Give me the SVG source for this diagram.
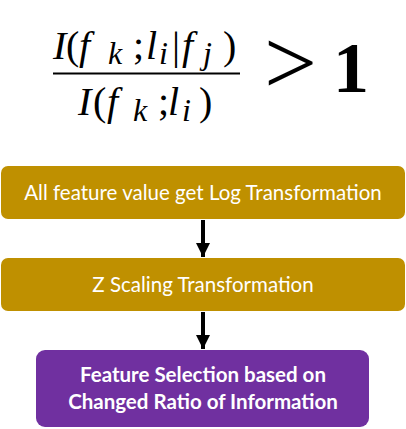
<svg xmlns="http://www.w3.org/2000/svg" width="406" height="429" viewBox="0 0 406 429">
<style>
.m{font-family:"Liberation Serif","DejaVu Serif",serif;font-style:italic;font-size:40px;fill:#000}
.r{font-style:normal}
.s{font-size:32px}
.box{fill:#BF9000}
.pbox{fill:#7030A0}
.t{font-family:Lato,"Open Sans",sans-serif;font-size:20.5px;fill:#fff;text-anchor:middle}
.b{font-weight:bold}
</style>
<defs>
<marker id="ah" viewBox="0 0 10 10" refX="10" refY="5" markerWidth="3.6" markerHeight="3.6" orient="auto" markerUnits="strokeWidth">
<path d="M0,0 L10,5 L0,10 z" fill="#000"/>
</marker>
</defs>
<rect width="406" height="429" fill="#fff"/>
<g id="formula">
<text class="m" y="59"><tspan x="53">I</tspan><tspan class="r" x="66">(</tspan><tspan x="79">f</tspan><tspan class="s" x="108" y="64">k</tspan><tspan class="r" x="133" y="59">;</tspan><tspan x="146">l</tspan><tspan class="s" x="159" y="64">i</tspan><tspan class="r" x="172" y="59">|</tspan><tspan x="182">f</tspan><tspan class="s" x="203" y="64">j</tspan><tspan class="r" x="223" y="59">)</tspan></text>
<line x1="53" y1="73.5" x2="240" y2="73.5" stroke="#000" stroke-width="2.2"/>
<text class="m" y="115"><tspan x="78">I</tspan><tspan class="r" x="93">(</tspan><tspan x="107">f</tspan><tspan class="s" x="133" y="121">k</tspan><tspan class="r" x="158" y="115">;</tspan><tspan x="168">l</tspan><tspan class="s" x="182" y="121">i</tspan><tspan class="r" x="199" y="115">)</tspan></text>
<text x="264" y="94" style="font-family:'Liberation Serif',serif;font-size:94px;fill:#000">&gt;</text>
<text x="333" y="92" style="font-family:'Liberation Serif',serif;font-size:72px;font-weight:bold;fill:#000">1</text>
</g>
<g id="node1">
<rect class="box" x="1" y="166" width="404" height="53" rx="7"/>
<text class="t" x="203" y="200">All feature value get Log Transformation</text>
</g>
<g id="node2">
<rect class="box" x="1" y="258" width="404" height="53" rx="7"/>
<text class="t" x="203" y="292">Z Scaling Transformation</text>
</g>
<g id="node3">
<rect class="pbox" x="36" y="350" width="333" height="77" rx="9"/>
<text class="t b" x="203" y="382">Feature Selection based on</text>
<text class="t b" x="203" y="409">Changed Ratio of Information</text>
</g>
<g id="connectors" stroke="#000" stroke-width="4">
<line x1="203" y1="220" x2="203" y2="257" marker-end="url(#ah)"/>
<line x1="203" y1="312" x2="203" y2="349" marker-end="url(#ah)"/>
</g>
</svg>
